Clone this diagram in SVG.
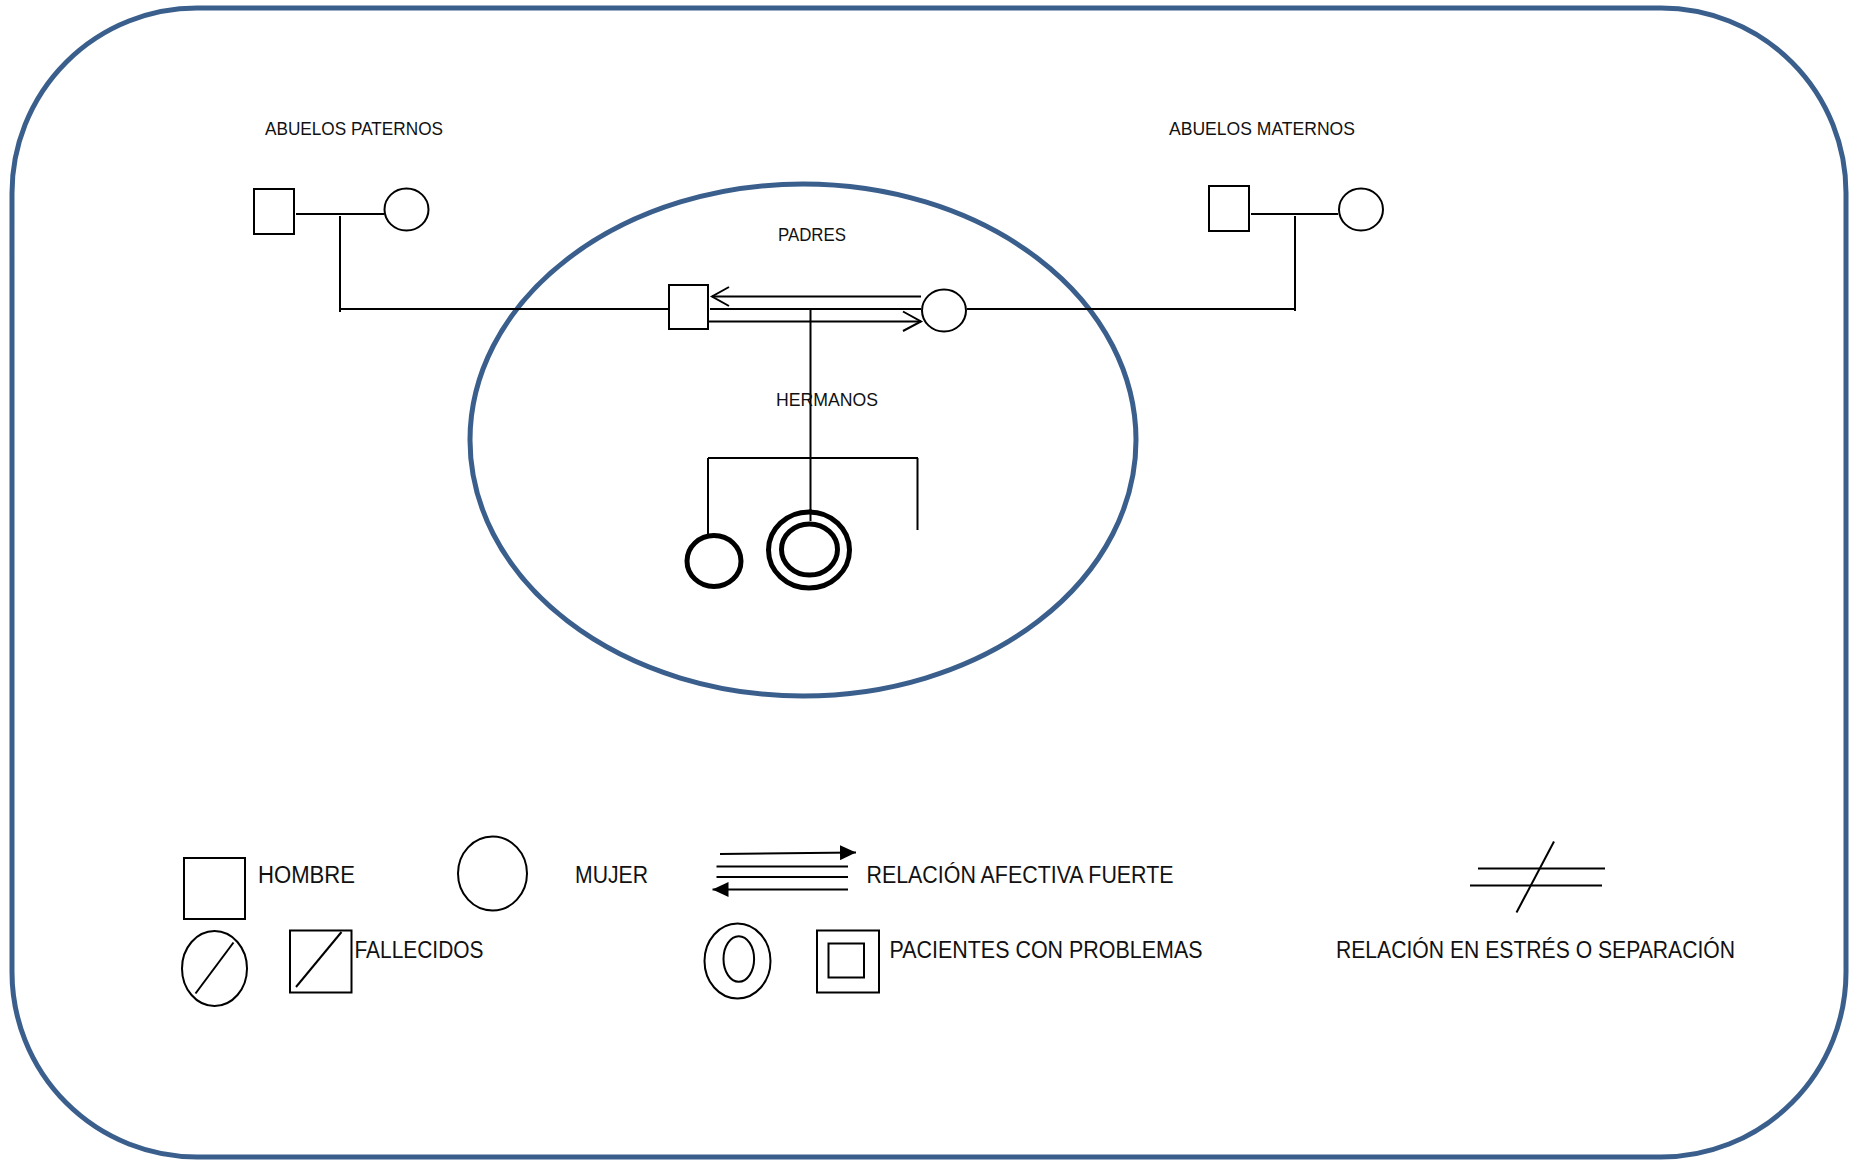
<svg xmlns="http://www.w3.org/2000/svg" width="1856" height="1160" viewBox="0 0 1856 1160">
<defs>
<style>
.frame{fill:none;stroke:#3B5F8D;stroke-width:5}
.ln{fill:none;stroke:#000;stroke-width:2}
.sym{fill:#fff;stroke:#000;stroke-width:2}
.thick{fill:#fff;stroke:#000;stroke-width:5}
.lbl{font-family:"Liberation Sans",Arial,sans-serif;font-size:18px;fill:#111}
.leg{font-family:"Liberation Sans",Arial,sans-serif;font-size:23.5px;fill:#111}
</style>
<marker id="fa2" viewBox="0 0 16 15" refX="16" refY="7.5" markerWidth="16" markerHeight="15" markerUnits="userSpaceOnUse" orient="auto"><path d="M0,0 L16,7.5 L0,15 Z" fill="#000"/></marker>
</defs>
<rect class="frame" x="12" y="8" width="1834" height="1149" rx="185" ry="185"/>
<ellipse id="nucleo" cx="803" cy="440" rx="333" ry="256" fill="none" stroke="#3B5F8D" stroke-width="5"/>

<g id="connectors">
<line class="ln" x1="296" y1="214" x2="384" y2="214"/>
<line class="ln" x1="340" y1="216" x2="340" y2="312"/>
<line class="ln" x1="340" y1="309" x2="668" y2="309"/>
<line class="ln" x1="1251" y1="214" x2="1338" y2="214"/>
<line class="ln" x1="1295" y1="216" x2="1295" y2="311"/>
<line class="ln" x1="967" y1="309" x2="1295" y2="309"/>
<line class="ln" x1="710" y1="309" x2="921" y2="309"/>
<line class="ln" x1="921" y1="296.5" x2="712" y2="296.5"/>
<polyline class="ln" points="729,287 712,296.5 729,306"/>
<line class="ln" x1="709" y1="321.5" x2="921" y2="321.5"/>
<polyline class="ln" points="903,311.5 921,321.5 903,331"/>
<line class="ln" x1="810.5" y1="309" x2="810.5" y2="519"/>
<line class="ln" x1="708" y1="458" x2="918" y2="458"/>
<line class="ln" x1="708" y1="458" x2="708" y2="534"/>
<line class="ln" x1="917.5" y1="458" x2="917.5" y2="530"/>
</g>

<g id="abuelos-paternos">
<text class="lbl" x="265" y="135" textLength="178" lengthAdjust="spacingAndGlyphs">ABUELOS PATERNOS</text>
<rect class="sym" x="254" y="189" width="40" height="45"/>
<ellipse class="sym" cx="406.5" cy="209.5" rx="22" ry="21"/>
</g>
<g id="abuelos-maternos">
<text class="lbl" x="1169" y="135" textLength="186" lengthAdjust="spacingAndGlyphs">ABUELOS MATERNOS</text>
<rect class="sym" x="1209" y="186" width="40" height="45"/>
<ellipse class="sym" cx="1361" cy="209.5" rx="22" ry="21"/>
</g>
<g id="padres">
<text class="lbl" x="778" y="241" textLength="68" lengthAdjust="spacingAndGlyphs">PADRES</text>
<rect class="sym" x="669" y="285" width="39" height="44"/>
<ellipse class="sym" cx="944" cy="310.5" rx="22" ry="21"/>
</g>
<g id="hermanos">
<text class="lbl" x="776" y="406" textLength="102" lengthAdjust="spacingAndGlyphs">HERMANOS</text>
<ellipse class="thick" cx="714" cy="561" rx="27" ry="25.5"/>
<ellipse class="thick" cx="809" cy="550" rx="40.5" ry="38"/>
<ellipse class="thick" cx="809.5" cy="549.5" rx="28" ry="25.5"/>
<line class="ln" x1="810.5" y1="509" x2="810.5" y2="521"/>
</g>

<g id="leyenda">
<g id="ley-hombre">
<rect class="sym" x="184" y="858" width="61" height="61"/>
<text class="leg" x="258" y="883" textLength="97" lengthAdjust="spacingAndGlyphs">HOMBRE</text>
</g>
<g id="ley-mujer">
<ellipse class="sym" cx="492.5" cy="873.5" rx="34.5" ry="37"/>
<text class="leg" x="575" y="883" textLength="73" lengthAdjust="spacingAndGlyphs">MUJER</text>
</g>
<g id="ley-afectiva">
<line class="ln" x1="720" y1="854" x2="856" y2="852.5" marker-end="url(#fa2)"/>
<line class="ln" x1="716.5" y1="866.5" x2="848" y2="866.5"/>
<line class="ln" x1="716.5" y1="877" x2="848" y2="877"/>
<line class="ln" x1="848" y1="889.5" x2="712.5" y2="889.5" marker-end="url(#fa2)"/>
<text class="leg" x="866.5" y="883" textLength="307" lengthAdjust="spacingAndGlyphs">RELACIÓN AFECTIVA FUERTE</text>
</g>
<g id="ley-estres">
<line class="ln" x1="1478" y1="868.5" x2="1605" y2="868.5"/>
<line class="ln" x1="1470" y1="885.5" x2="1602" y2="885.5"/>
<line class="ln" x1="1554" y1="841.5" x2="1516.5" y2="912.5"/>
<text class="leg" x="1336" y="958" textLength="399" lengthAdjust="spacingAndGlyphs">RELACIÓN EN ESTRÉS O SEPARACIÓN</text>
</g>
<g id="ley-fallecidos">
<ellipse class="sym" cx="214.5" cy="968.5" rx="32.5" ry="37.5"/>
<line class="ln" x1="233.5" y1="942.5" x2="195.5" y2="993.5"/>
<rect class="sym" x="290" y="930.5" width="61.5" height="62"/>
<line class="ln" x1="341.5" y1="932" x2="296" y2="987"/>
<text class="leg" x="354.5" y="958" textLength="129" lengthAdjust="spacingAndGlyphs">FALLECIDOS</text>
</g>
<g id="ley-pacientes">
<ellipse class="sym" cx="737.5" cy="961" rx="33" ry="37.5"/>
<ellipse class="sym" cx="738.8" cy="959" rx="15.3" ry="22.8"/>
<rect class="sym" x="817" y="930.5" width="62" height="62"/>
<rect class="sym" x="828.5" y="943.5" width="35.5" height="34"/>
<text class="leg" x="889.5" y="958" textLength="313" lengthAdjust="spacingAndGlyphs">PACIENTES CON PROBLEMAS</text>
</g>
</g>
</svg>
